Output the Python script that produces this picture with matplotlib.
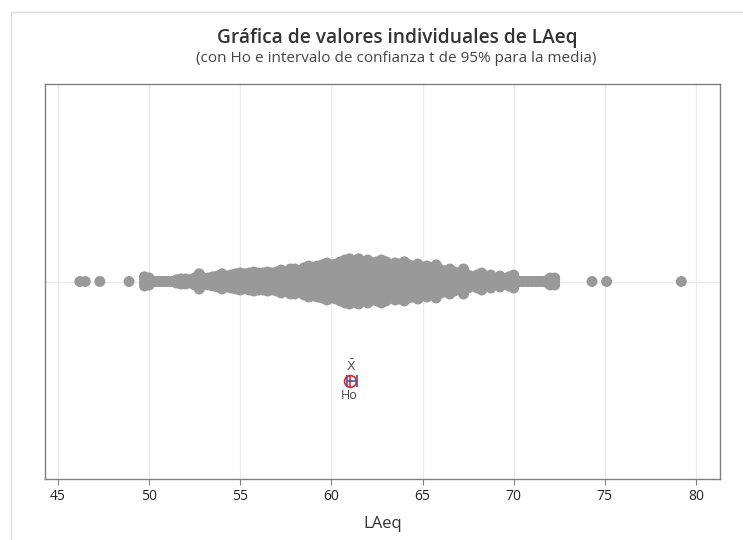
import numpy as np
import matplotlib
matplotlib.use("Agg")
import matplotlib.pyplot as plt
from matplotlib.patches import Rectangle

plt.rcParams['font.family'] = ['Open Sans', 'DejaVu Sans']

# envelope of the dense strip: value and half-height of the dot cloud
strip_x = [49.75, 50.0, 50.25, 50.5, 50.75, 51.0, 51.25, 51.5, 51.75, 52.0,
           52.25, 52.5, 52.75, 53.0, 53.25, 53.5, 53.75, 54.0, 54.25, 54.5,
           54.75, 55.0, 55.25, 55.5, 55.75, 56.0, 56.25, 56.5, 56.75, 57.0,
           57.25, 57.5, 57.75, 58.0, 58.25, 58.5, 58.75, 59.0, 59.25, 59.5,
           59.75, 60.0, 60.25, 60.5, 60.75, 61.0, 61.25, 61.5, 61.75, 62.0,
           62.25, 62.5, 62.75, 63.0, 63.25, 63.5, 63.75, 64.0, 64.25, 64.5,
           64.75, 65.0, 65.25, 65.5, 65.75, 66.0, 66.25, 66.5, 66.75, 67.0,
           67.25, 67.5, 67.75, 68.0, 68.25, 68.5, 68.75, 69.0, 69.25, 69.5,
           69.75, 70.0, 70.25, 70.5, 70.75, 71.0, 71.25, 71.5, 71.75, 72.0,
           72.25]
strip_half = [10, 9, 5, 5, 5, 5, 5, 7, 8, 8,
              7, 9, 13, 9, 9, 10, 11, 13, 11, 12,
              13, 14, 13, 14, 15, 14, 14, 15, 14, 15,
              17, 15, 18, 18, 16, 19, 21, 20, 21, 22,
              24, 22, 23, 25, 27, 28, 26, 28, 25, 27,
              24, 25, 27, 25, 22, 24, 23, 25, 22, 21,
              23, 20, 21, 19, 22, 17, 16, 18, 15, 13,
              18, 12, 10, 12, 14, 9, 12, 8, 11, 8,
              10, 12, 6, 5, 5, 5, 5, 5, 6, 9,
              9]
# isolated observations
single_x = [46.2, 46.5, 47.3, 48.9, 74.3, 75.1, 79.2]

ho = 61.0
mean = 61.1
ci_low, ci_high = 60.85, 61.4

fig = plt.figure(figsize=(7.43, 5.40), dpi=100)
fig.patches.append(Rectangle((11 / 743, -0.1), 2, 1.1 - 12 / 540, transform=fig.transFigure,
                             fill=False, edgecolor='#dcdcdc', linewidth=1))
ax = fig.add_axes([45 / 743, 61 / 540, 675 / 743, 395 / 540])

xs, ys = [], []
for x, h in zip(strip_x, strip_half):
    top = max(h - 5.5, 0)
    for y in np.arange(-top, top + 0.1, 3):
        xs.append(x)
        ys.append(y)
    xs.append(x)
    ys.append(top)
for x in single_x:
    xs.append(x)
    ys.append(0)
ax.scatter(xs, ys, s=62, color='#999999', edgecolors='none', zorder=3)

# confidence interval, mean and Ho
ax.errorbar([mean], [-99], xerr=[[mean - ci_low], [ci_high - mean]], fmt='none',
            ecolor='#2a6fd0', elinewidth=1.3, capsize=4, capthick=1.3, zorder=4)
ax.plot([ho], [-99], marker='o', ms=8.5, mfc='none', mec='#e0242a', mew=1.2, zorder=5)
ax.plot([ho], [-99], marker='|', ms=8.5, mec='#e0242a', mew=1.2, zorder=5)
ax.text(mean, -85, r'$\bar{\mathrm{X}}$', ha='center', va='center', fontsize=9, color='#555555')
ax.text(ho, -114, 'Ho', ha='center', va='center', fontsize=9, color='#444444')

ax.set_xlim(44.29, 81.32)
ax.set_ylim(-197.5, 197.5)
ax.set_xticks([45, 50, 55, 60, 65, 70, 75, 80])
ax.set_yticks([0])
ax.tick_params(axis='y', length=0, labelleft=False)
ax.tick_params(axis='x', length=4, color='#808080', labelsize=10, labelcolor='#222222')
ax.grid(True, color='#ebebeb', linewidth=1, zorder=0)
ax.set_axisbelow(True)
for sp in ax.spines.values():
    sp.set_color('#808080')
    sp.set_linewidth(1)

ax.set_xlabel('LAeq', fontsize=12, color='#333333', labelpad=8)
fig.text(397 / 743, 1 - 38 / 540, 'Gráfica de valores individuales de LAeq', ha='center',
         va='center', fontsize=13.8, fontweight='semibold', color='#333333')
fig.text(396 / 743, 1 - 58 / 540, '(con Ho e intervalo de confianza t de 95% para la media)',
         ha='center', va='center', fontsize=11, color='#444444')

fig.savefig('out.png', dpi=100)
